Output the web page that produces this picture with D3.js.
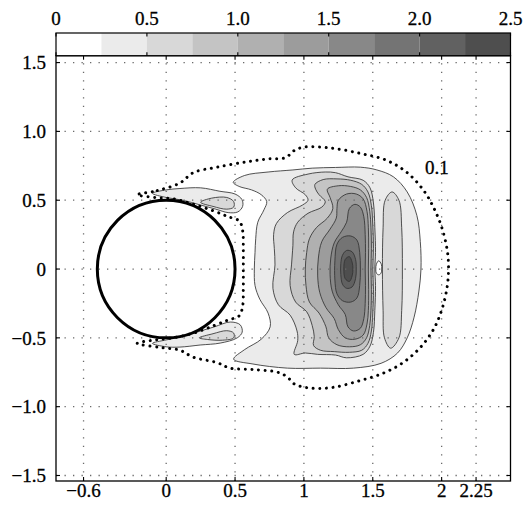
<!DOCTYPE html>
<html>
<head>
<meta charset="utf-8">
<script src="https://cdn.jsdelivr.net/npm/d3@7"></script>
<style>
  html, body { margin: 0; padding: 0; background: #fff; }
  svg { display: block; }
</style>
</head>
<body>
<svg id="chart" width="523" height="509"></svg>
<script>
// ---- axes and colour scale ----
const xTicks = [-0.6, 0, 0.5, 1, 1.5, 2, 2.25];
const xTickLabels = ["\u22120.6", "0", "0.5", "1", "1.5", "2", "2.25"];
const yTicks = [-1.5, -1, -0.5, 0, 0.5, 1, 1.5];
const yTickLabels = ["\u22121.5", "\u22121.0", "\u22120.5", "0", "0.5", "1.0", "1.5"];
const barTicks = [0, 0.5, 1, 1.5, 2, 2.5];
const barTickLabels = ["0", "0.5", "1.0", "1.5", "2.0", "2.5"];
const bandEdges = [0, 0.25, 0.5, 0.75, 1, 1.25, 1.5, 1.75, 2, 2.25, 2.5];
const bandColors = ["#ffffff", "#ebebeb", "#d8d8d8", "#c4c4c4", "#b0b0b0",
                    "#9c9c9c", "#888888", "#747474", "#616161", "#4e4e4e"];

// ---- cylinder ----
const cylinderCenter = [0, 0];
const cylinderRadius = 0.5;

// ---- isoline 0.1 (dotted) ----
const iso010 = [[-0.21,0.54],[-0.065,0.57],[0.10,0.625],[0.196,0.70],[0.37,0.74],[0.59,0.78],[0.74,0.80],
  [0.87,0.81],[0.92,0.855],[0.995,0.885],[1.19,0.88],[1.41,0.84],[1.60,0.79],[1.75,0.70],[1.87,0.57],
  [1.94,0.45],[2.00,0.305],[2.04,0.14],[2.05,0.01],[2.04,-0.13],[2.00,-0.30],[1.94,-0.44],[1.845,-0.57],
  [1.72,-0.68],[1.58,-0.755],[1.41,-0.81],[1.21,-0.86],[1.046,-0.865],[0.93,-0.835],[0.88,-0.785],
  [0.81,-0.75],[0.63,-0.73],[0.465,-0.72],[0.37,-0.68],[0.196,-0.64],[0.10,-0.59],[-0.04,-0.57],[-0.21,-0.54],
  [-0.08,-0.515],[0.05,-0.50],[0.20,-0.465],[0.35,-0.41],[0.45,-0.37],[0.53,-0.34],[0.555,-0.27],[0.56,-0.14],
  [0.56,0.0],[0.56,0.14],[0.555,0.28],[0.53,0.35],[0.45,0.38],[0.35,0.42],[0.20,0.47],[0.05,0.51],[-0.08,0.52]];

// ---- filled isolines: level 0.25 ----
const iso025Main = [[0.487,0.63],[0.57,0.68],[0.74,0.705],[0.92,0.72],[1.06,0.733],[1.23,0.738],[1.41,0.74],
  [1.53,0.72],[1.65,0.67],[1.75,0.56],[1.82,0.39],[1.845,0.2],[1.85,0.0],[1.835,-0.16],[1.80,-0.35],
  [1.75,-0.50],[1.68,-0.61],[1.56,-0.685],[1.36,-0.72],[1.12,-0.72],[0.88,-0.72],[0.63,-0.69],[0.49,-0.655],
  [0.57,-0.585],[0.69,-0.51],[0.755,-0.42],[0.74,-0.32],[0.68,-0.22],[0.645,-0.12],[0.64,0.0],[0.645,0.12],
  [0.65,0.22],[0.665,0.34],[0.71,0.43],[0.73,0.49],[0.69,0.54],[0.62,0.575],[0.53,0.6]];
const iso025Upper = [[-0.10,0.55],[0.0,0.575],[0.10,0.585],[0.25,0.59],[0.39,0.565],[0.50,0.545],[0.55,0.505],
  [0.555,0.455],[0.52,0.415],[0.45,0.41],[0.36,0.435],[0.25,0.465],[0.12,0.50],[0.0,0.52]];
const iso025Lower = [[-0.10,-0.54],[0.0,-0.515],[0.12,-0.49],[0.25,-0.45],[0.35,-0.42],[0.465,-0.385],
  [0.537,-0.405],[0.552,-0.458],[0.516,-0.50],[0.392,-0.538],[0.247,-0.552],[0.10,-0.567],[0.0,-0.565]];
const iso025Hole = [[1.543,0.06],[1.562,0.035],[1.565,0.0],[1.56,-0.03],[1.543,-0.042],[1.526,-0.03],
  [1.522,0.0],[1.526,0.035]];

// ---- level 0.5 ----
const iso050Main = [[0.915,0.647],[1.03,0.69],[1.155,0.705],[1.23,0.70],[1.32,0.67],[1.43,0.645],[1.48,0.59],
  [1.505,0.48],[1.515,0.30],[1.52,0.12],[1.515,0.0],[1.52,-0.12],[1.515,-0.30],[1.505,-0.46],[1.48,-0.56],
  [1.43,-0.62],[1.31,-0.645],[1.23,-0.625],[1.10,-0.62],[1.01,-0.61],[0.93,-0.62],[0.955,-0.52],
  [0.95,-0.45],[0.90,-0.335],[0.815,-0.26],[0.775,-0.14],[0.79,0.03],[0.785,0.15],[0.78,0.25],[0.80,0.33],
  [0.88,0.41],[0.99,0.465],[1.03,0.50],[1.01,0.54],[0.94,0.59]];
const iso050Band = [[1.64,0.56],[1.69,0.50],[1.71,0.30],[1.715,0.0],[1.71,-0.30],[1.69,-0.50],[1.63,-0.575],
  [1.585,-0.50],[1.575,-0.30],[1.57,0.0],[1.575,0.30],[1.59,0.50]];
const iso050Upper = [[0.25,0.485],[0.33,0.515],[0.44,0.52],[0.49,0.49],[0.49,0.45],[0.44,0.435],[0.34,0.455]];
const iso050Lower = [[0.24,-0.50],[0.34,-0.47],[0.44,-0.448],[0.49,-0.465],[0.49,-0.50],[0.41,-0.517],[0.30,-0.512]];

// ---- levels 0.75 .. 2.25 ----
const iso075 = [[1.08,0.615],[1.14,0.65],[1.24,0.655],[1.34,0.645],[1.42,0.615],[1.465,0.56],[1.49,0.46],
  [1.50,0.32],[1.505,0.15],[1.50,0.0],[1.505,-0.15],[1.50,-0.32],[1.49,-0.45],[1.465,-0.54],[1.42,-0.59],
  [1.33,-0.605],[1.22,-0.60],[1.12,-0.59],[1.07,-0.555],[1.075,-0.49],[1.06,-0.41],[1.02,-0.31],[0.94,-0.24],
  [0.90,-0.12],[0.91,0.03],[0.92,0.17],[0.925,0.27],[0.955,0.34],[1.03,0.405],[1.13,0.45],[1.155,0.49],
  [1.11,0.54],[1.085,0.58]];
const iso100 = [[1.17,0.58],[1.25,0.605],[1.34,0.60],[1.41,0.575],[1.455,0.52],[1.478,0.42],[1.487,0.30],
  [1.49,0.15],[1.487,0.0],[1.49,-0.15],[1.487,-0.30],[1.478,-0.41],[1.455,-0.50],[1.41,-0.55],[1.33,-0.565],
  [1.24,-0.55],[1.18,-0.50],[1.16,-0.42],[1.11,-0.32],[1.04,-0.24],[1.015,-0.12],[1.01,0.0],[1.02,0.12],
  [1.04,0.22],[1.09,0.30],[1.17,0.37],[1.21,0.44],[1.19,0.52]];
const iso125 = [[1.25,0.50],[1.31,0.545],[1.38,0.545],[1.43,0.51],[1.458,0.42],[1.468,0.30],[1.47,0.15],
  [1.468,0.0],[1.47,-0.15],[1.468,-0.30],[1.458,-0.40],[1.43,-0.48],[1.37,-0.51],[1.30,-0.50],[1.25,-0.44],
  [1.22,-0.36],[1.16,-0.28],[1.115,-0.17],[1.10,-0.05],[1.105,0.08],[1.13,0.20],[1.19,0.29],[1.235,0.37],
  [1.24,0.44]];
const iso150 = [[1.31,0.34],[1.33,0.44],[1.37,0.47],[1.41,0.45],[1.435,0.38],[1.445,0.25],[1.447,0.12],
  [1.445,0.0],[1.447,-0.12],[1.445,-0.25],[1.435,-0.36],[1.41,-0.43],[1.36,-0.45],[1.32,-0.42],[1.30,-0.33],
  [1.25,-0.26],[1.205,-0.16],[1.19,-0.04],[1.195,0.08],[1.22,0.19],[1.27,0.27]];
const iso175 = [[1.24,0.18],[1.28,0.23],[1.34,0.24],[1.385,0.21],[1.405,0.12],[1.41,0.0],[1.405,-0.12],
  [1.385,-0.21],[1.34,-0.24],[1.28,-0.23],[1.24,-0.18],[1.225,-0.08],[1.225,0.06]];
const iso200 = [[1.28,0.10],[1.31,0.135],[1.35,0.125],[1.375,0.07],[1.38,0.0],[1.375,-0.07],[1.35,-0.13],
  [1.31,-0.14],[1.28,-0.11],[1.268,-0.04],[1.268,0.04]];
const iso225 = [[1.30,0.07],[1.33,0.09],[1.35,0.05],[1.356,0.0],[1.35,-0.05],[1.33,-0.09],[1.30,-0.07],[1.29,0.0]];

// drawing order: outer bands first, inner bands painted on top
const filledIsolines = [
  {level: 0.25, ring: iso025Main}, {level: 0.25, ring: iso025Upper}, {level: 0.25, ring: iso025Lower},
  {level: 0.0, ring: iso025Hole},
  {level: 0.5, ring: iso050Main}, {level: 0.5, ring: iso050Band},
  {level: 0.5, ring: iso050Upper}, {level: 0.5, ring: iso050Lower},
  {level: 0.75, ring: iso075}, {level: 1.0, ring: iso100}, {level: 1.25, ring: iso125},
  {level: 1.5, ring: iso150}, {level: 1.75, ring: iso175}, {level: 2.0, ring: iso200}, {level: 2.25, ring: iso225}
];

// ---- layout ----
const FONT = "Liberation Serif";
const svg = d3.select("#chart");
const plot = {left: 56, right: 510.5, top: 55.7, bottom: 481};
const bar = {top: 33, bottom: 55.7};

const x = d3.scaleLinear().domain([-0.8, 2.5]).range([plot.left, plot.right]);
const y = d3.scaleLinear().domain([-1.54, 1.55]).range([plot.bottom, plot.top]);
const cbx = d3.scaleLinear().domain([0, 2.5]).range([plot.left, plot.right]);
const bandColor = d3.scaleThreshold().domain(bandEdges.slice(1, -1)).range(bandColors);

// shared look for every label
function labelStyle(sel) {
  return sel.attr("font-family", FONT).attr("font-size", 19)
    .attr("fill", "#000").attr("stroke", "#000").attr("stroke-width", 0.3);
}

svg.append("defs").append("clipPath").attr("id", "plotClip")
  .append("rect").attr("x", plot.left).attr("y", plot.top)
  .attr("width", plot.right - plot.left).attr("height", plot.bottom - plot.top);

const field = svg.append("g").attr("clip-path", "url(#plotClip)");

const ringPath = d3.line()
  .x(d => x(d[0])).y(d => y(d[1]))
  .curve(d3.curveCatmullRomClosed.alpha(0.5));

field.selectAll("path.band")
  .data(filledIsolines)
  .join("path")
  .attr("class", "band")
  .attr("d", d => ringPath(d.ring))
  .attr("fill", d => bandColor(d.level + 1e-6))
  .attr("stroke", "#333")
  .attr("stroke-width", 0.85);

// dotted 0.1 isoline
field.append("path")
  .attr("d", ringPath(iso010))
  .attr("fill", "none")
  .attr("stroke", "#000")
  .attr("stroke-width", 3)
  .attr("stroke-linecap", "round")
  .attr("stroke-dasharray", "0.01 6.6");

svg.append("text")
  .attr("x", x(1.88)).attr("y", y(0.69))
  .call(labelStyle)
  .text("0.1");

// grid
const grid = svg.append("g").attr("stroke", "#6a6a6a").attr("stroke-width", 1.3)
  .attr("stroke-dasharray", "1.3 7.2");
grid.selectAll("line.gx").data(xTicks).join("line").attr("class", "gx")
  .attr("x1", d => x(d)).attr("x2", d => x(d))
  .attr("y1", plot.bottom).attr("y2", plot.top);
grid.selectAll("line.gy").data(yTicks).join("line").attr("class", "gy")
  .attr("x1", plot.left).attr("x2", plot.right)
  .attr("y1", d => y(d)).attr("y2", d => y(d));

// cylinder
svg.append("ellipse")
  .attr("cx", x(cylinderCenter[0])).attr("cy", y(cylinderCenter[1]))
  .attr("rx", x(cylinderRadius) - x(0)).attr("ry", y(0) - y(cylinderRadius))
  .attr("fill", "none").attr("stroke", "#000").attr("stroke-width", 3);

// frame and inward ticks
svg.append("rect")
  .attr("x", plot.left).attr("y", plot.top)
  .attr("width", plot.right - plot.left).attr("height", plot.bottom - plot.top)
  .attr("fill", "none").attr("stroke", "#000").attr("stroke-width", 1.3);

const tickLen = 4;
const ticks = svg.append("g").attr("stroke", "#000").attr("stroke-width", 1.1);
xTicks.forEach(t => {
  ticks.append("line").attr("x1", x(t)).attr("x2", x(t)).attr("y1", plot.bottom).attr("y2", plot.bottom - tickLen);
  ticks.append("line").attr("x1", x(t)).attr("x2", x(t)).attr("y1", plot.top).attr("y2", plot.top + tickLen);
});
yTicks.forEach(t => {
  ticks.append("line").attr("y1", y(t)).attr("y2", y(t)).attr("x1", plot.left).attr("x2", plot.left + tickLen);
  ticks.append("line").attr("y1", y(t)).attr("y2", y(t)).attr("x1", plot.right).attr("x2", plot.right - tickLen);
});

svg.append("g").selectAll("text").data(xTicks).join("text")
  .attr("x", d => x(d)).attr("y", 497)
  .attr("text-anchor", "middle").call(labelStyle)
  .text((d, i) => xTickLabels[i]);

svg.append("g").selectAll("text").data(yTicks).join("text")
  .attr("x", 46).attr("y", d => y(d)).attr("dy", "0.35em")
  .attr("text-anchor", "end").call(labelStyle)
  .text((d, i) => yTickLabels[i]);

// colour bar
const bands = bandColors.map((c, i) => ({lo: bandEdges[i], hi: bandEdges[i + 1], color: c}));
svg.append("g").selectAll("rect").data(bands).join("rect")
  .attr("x", d => cbx(d.lo)).attr("width", d => cbx(d.hi) - cbx(d.lo))
  .attr("y", bar.top).attr("height", bar.bottom - bar.top)
  .attr("fill", d => d.color);
svg.append("rect")
  .attr("x", plot.left).attr("y", bar.top)
  .attr("width", plot.right - plot.left).attr("height", bar.bottom - bar.top)
  .attr("fill", "none").attr("stroke", "#000").attr("stroke-width", 1.2);
const cbTicks = svg.append("g").attr("stroke", "#000").attr("stroke-width", 1.1);
barTicks.forEach(t => {
  cbTicks.append("line").attr("x1", cbx(t)).attr("x2", cbx(t)).attr("y1", bar.top).attr("y2", bar.top + 3.5);
  cbTicks.append("line").attr("x1", cbx(t)).attr("x2", cbx(t)).attr("y1", bar.bottom).attr("y2", bar.bottom - 3.5);
});
svg.append("g").selectAll("text").data(barTicks).join("text")
  .attr("x", d => cbx(d)).attr("y", 25)
  .attr("text-anchor", "middle").call(labelStyle)
  .text((d, i) => barTickLabels[i]);
</script>
</body>
</html>
